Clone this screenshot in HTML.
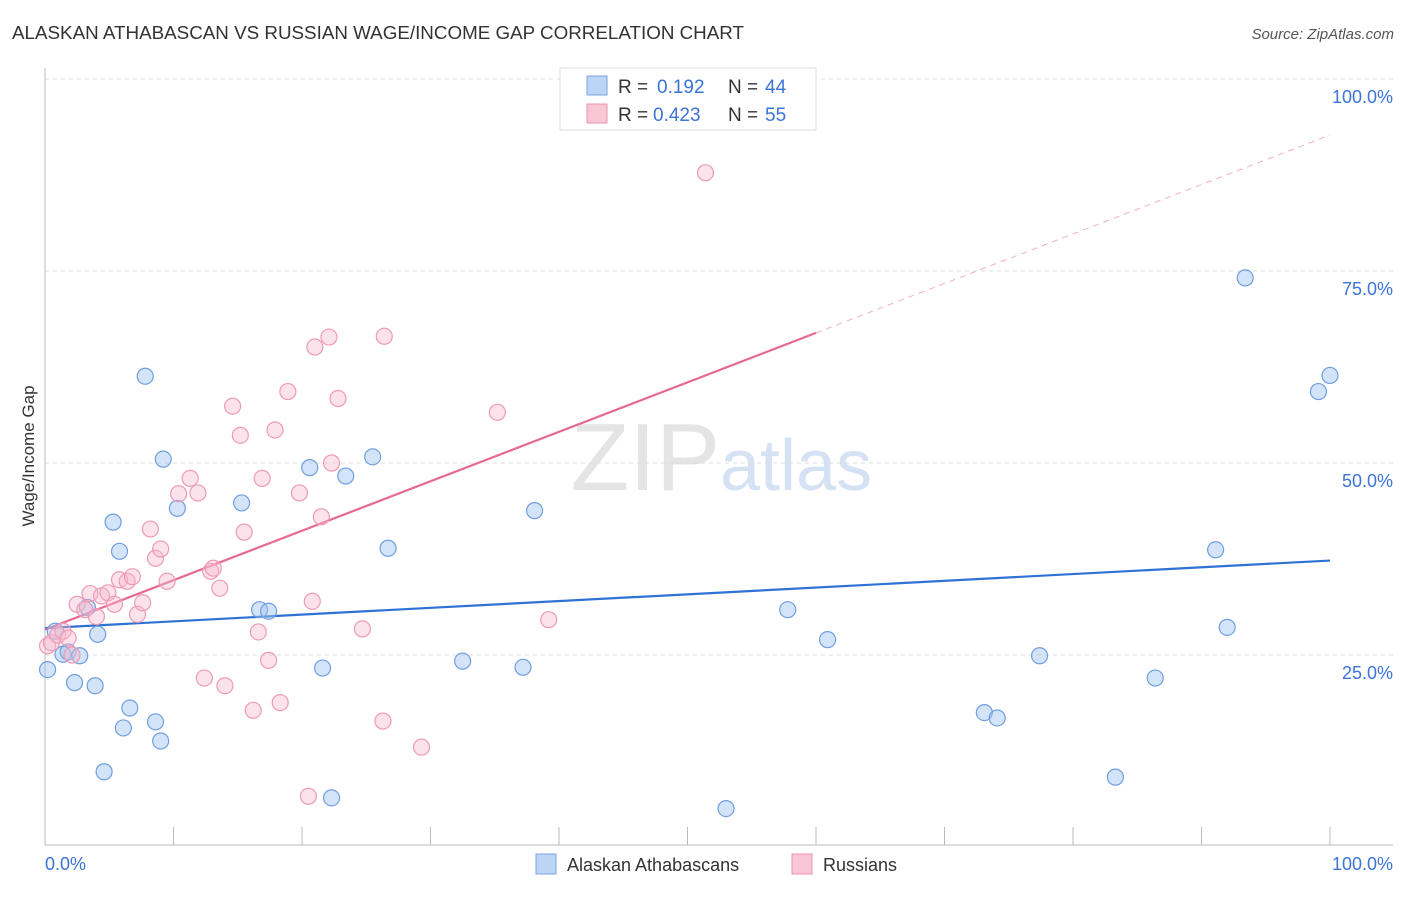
<!DOCTYPE html>
<html><head><meta charset="utf-8"><style>
body{margin:0;background:#fff;font-family:"Liberation Sans",sans-serif;}
svg text{font-family:"Liberation Sans",sans-serif;}
</style></head><body>
<svg id="chart" width="1406" height="892" xmlns="http://www.w3.org/2000/svg">
<text x="12" y="39" font-size="18" fill="#333" textLength="732" lengthAdjust="spacingAndGlyphs">ALASKAN ATHABASCAN VS RUSSIAN WAGE/INCOME GAP CORRELATION CHART</text>
<text x="1394" y="39" font-size="15" fill="#555" text-anchor="end" font-style="italic">Source: ZipAtlas.com</text>
<text x="720" y="490" font-size="96" fill="#e4e4e4" text-anchor="end" font-family="Liberation Serif">ZIP</text>
<text x="720" y="490" font-size="72" fill="#d5e2f3">atlas</text>
<g id="grid"></g>
<g id="axes"></g>
<g id="lines"></g>
<g id="points"></g>
<text transform="translate(34,456) rotate(-90)" font-size="17" fill="#333" text-anchor="middle">Wage/Income Gap</text>
<g>
<rect x="560" y="68" width="256" height="62" fill="#fff" stroke="#ddd"/>
<rect x="587" y="76" width="20" height="19" fill="#bcd4f5" stroke="#7aa3e0"/>
<text x="618" y="93" font-size="19" fill="#333">R = </text><text x="657" y="93" font-size="19" fill="#3b73d6">0.192</text>
<text x="728" y="93" font-size="19" fill="#333">N = </text><text x="765" y="93" font-size="19" fill="#3b73d6">44</text>
<rect x="587" y="104" width="20" height="19" fill="#f9c6d6" stroke="#eb93b0"/>
<text x="618" y="121" font-size="19" fill="#333">R = </text><text x="653" y="121" font-size="19" fill="#3b73d6">0.423</text>
<text x="728" y="121" font-size="19" fill="#333">N = </text><text x="765" y="121" font-size="19" fill="#3b73d6">55</text>
</g>
<g>
<rect x="536" y="854" width="20" height="20" fill="#bcd4f5" stroke="#7aa3e0"/>
<text x="567" y="871" font-size="18" fill="#333">Alaskan Athabascans</text>
<rect x="792" y="854" width="20" height="20" fill="#f9c6d6" stroke="#eb93b0"/>
<text x="823" y="871" font-size="18" fill="#333">Russians</text>
</g>
</svg>
<script>
const blueX=[0.2,0.8,1.4,1.8,2.7,2.3,3.3,3.9,4.1,4.6,5.3,5.8,6.6,6.1,7.8,8.6,9.0,9.2,10.3,15.3,16.7,17.4,20.6,21.6,22.3,23.4,25.5,26.7,32.5,37.2,38.1,53.0,57.8,60.9,73.1,74.1,77.4,83.3,86.4,91.1,92.0,93.4,99.1,100.0];
const blueY=[23.1,28.1,25.1,25.4,24.9,21.4,31.2,21.0,27.7,9.8,42.3,38.5,18.1,15.5,61.3,16.3,13.8,50.5,44.1,44.8,30.9,30.7,49.4,23.3,6.4,48.3,50.8,38.9,24.2,23.4,43.8,5.0,30.9,27.0,17.5,16.8,24.9,9.1,22.0,38.7,28.6,74.1,59.3,61.4];
const pinkX=[0.2,0.5,1.0,1.4,1.8,2.1,2.5,3.1,3.5,4.0,4.4,4.9,5.4,5.8,6.4,6.8,7.2,7.6,8.2,8.6,9.0,9.5,10.4,11.3,11.9,12.4,12.9,13.1,13.6,14.0,14.6,15.2,15.5,16.2,16.6,16.9,17.4,17.9,18.3,18.9,19.8,20.5,20.8,21.0,21.5,22.1,22.3,22.8,24.7,26.3,26.4,29.3,35.2,39.2,51.4];
const pinkY=[26.2,26.6,27.6,28.1,27.2,25.0,31.6,30.9,33.0,30.0,32.7,33.1,31.6,34.8,34.6,35.2,30.3,31.8,41.4,37.6,38.8,34.6,46.0,48.0,46.1,22.0,35.9,36.3,33.7,21.0,57.4,53.6,41.0,17.8,28.0,48.0,24.3,54.3,18.8,59.3,46.1,6.6,32.0,65.1,43.0,66.4,50.0,58.4,28.4,16.4,66.5,13.0,56.6,29.6,87.8];
const xTicks=[0,10,20,30,40,50,60,70,80,90,100];
const yTicks=[25,50,75,100];
const yTickLabels=["25.0%","50.0%","75.0%","100.0%"];
const xTickLabels=["0.0%","100.0%"];
const blueLine=[28.5,37.3];
const pinkLine=[28.3,0.644];
const ns="http://www.w3.org/2000/svg";
const X=v=>45+v*12.85, Y=v=>847-v*7.68;
function mk(tag,attrs,parent){const e=document.createElementNS(ns,tag);for(const k in attrs)e.setAttribute(k,attrs[k]);document.getElementById(parent).appendChild(e);return e;}
yTicks.forEach((t,i)=>{
 const l=mk('line',{x1:45,x2:1393,y1:Y(t),y2:Y(t),stroke:'#ddd','stroke-dasharray':'4,4'},'grid');
 
 
 const tx=mk('text',{x:1393,y:Y(t)+24,'font-size':18,fill:'#3b73d6','text-anchor':'end'},'grid');
 tx.textContent=yTickLabels[i];
 
 
});
let a=mk('line',{x1:45,x2:45,y1:68,y2:845,stroke:'#bbb'},'axes');


a=mk('line',{x1:45,x2:1393,y1:845,y2:845,stroke:'#bbb'},'axes');


xTicks.forEach(t=>{
 const l=mk('line',{x1:X(t),x2:X(t),y1:827,y2:845,stroke:'#bbb'},'axes');
 
 
});
let t1=mk('text',{x:45,y:870,'font-size':18,fill:'#3b73d6'},'axes');t1.textContent=xTickLabels[0];


t1=mk('text',{x:1393,y:870,'font-size':18,fill:'#3b73d6','text-anchor':'end'},'axes');t1.textContent=xTickLabels[1];


blueX.forEach((x,i)=>{
 const c=mk('circle',{cx:X(x),cy:Y(blueY[i]),r:8,fill:'rgba(160,195,240,0.45)',stroke:'#6f9fe0','stroke-width':1.2},'points');
 
 
});
pinkX.forEach((x,i)=>{
 const c=mk('circle',{cx:X(x),cy:Y(pinkY[i]),r:8,fill:'rgba(248,185,205,0.4)',stroke:'#ee9ab6','stroke-width':1.2},'points');
 
 
});
let ln=mk('line',{x1:X(0),y1:Y(blueLine[0]),x2:X(100),y2:Y(blueLine[1]),stroke:'#2f72d6','stroke-width':2.2},'lines');


ln=mk('line',{x1:X(0),y1:Y(pinkLine[0]),x2:X(60),y2:Y(pinkLine[0]+60*pinkLine[1]),stroke:'#e56a93','stroke-width':2.2},'lines');


ln=mk('line',{x1:X(60),y1:Y(pinkLine[0]+60*pinkLine[1]),x2:X(100),y2:Y(pinkLine[0]+100*pinkLine[1]),stroke:'#eeb0c4','stroke-width':1,'stroke-dasharray':'6,5'},'lines');


</script>
</body></html>
